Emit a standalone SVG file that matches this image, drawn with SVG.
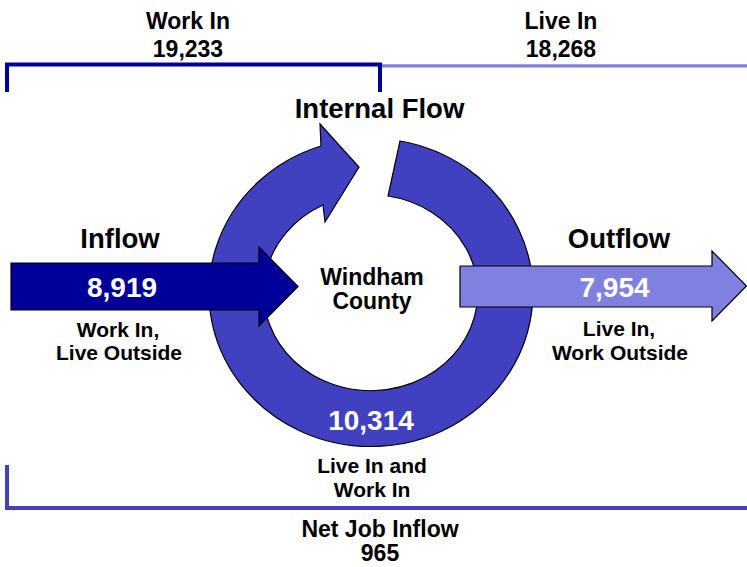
<svg xmlns="http://www.w3.org/2000/svg" width="747" height="567" viewBox="0 0 747 567">
<style>
text{font-family:"Liberation Sans",Arial,sans-serif;font-weight:bold;text-anchor:middle;fill:#000}
.s{font-size:21px}
.t{font-size:23px}
.h{font-size:27.5px}
.n{font-size:28px;fill:#fff}
.shape{stroke:#000;stroke-width:1.2;stroke-linejoin:miter}
</style>
<rect width="747" height="567" fill="#fff"/>
<g id="brackets">
<path d="M7 92 V64.5 H380 V92" fill="none" stroke="#000099" stroke-width="4"/>
<path d="M382 65.8 H747" fill="none" stroke="#8080E0" stroke-width="3.2"/>
<path d="M7 465 V508 H747" fill="none" stroke="#4040C0" stroke-width="4"/>
</g>
<g id="internal-flow">
<path class="shape" fill="#4040C0" d="M400 141 A162 154 0 1 1 321 146 L320 124 L359 167 L325 222 L323 205 A107 98 0 1 0 388 196 Z"/>
</g>
<g id="inflow">
<polygon class="shape" fill="#000099" points="11,263 259,263 259,247 298,286.5 259,326 259,310 11,310"/>
</g>
<g id="outflow">
<polygon class="shape" fill="#8080E0" points="460,266 712,266 712,251 746.5,286 712,321 712,307 460,307"/>
</g>
<g id="labels">
<text class="t" x="188" y="29">Work In</text>
<text class="t" x="188" y="57">19,233</text>
<text class="t" x="561" y="29">Live In</text>
<text class="t" x="561" y="57">18,268</text>
<text class="h" x="379.5" y="118">Internal Flow</text>
<text class="h" x="120" y="248">Inflow</text>
<text class="h" x="619" y="248">Outflow</text>
<text class="n" x="122" y="297">8,919</text>
<text class="n" x="614.5" y="297">7,954</text>
<text class="s" x="118" y="337">Work In,</text>
<text class="s" x="119" y="360">Live Outside</text>
<text class="s" x="619" y="336">Live In,</text>
<text class="s" x="620" y="360">Work Outside</text>
<text class="t" x="372" y="285">Windham</text>
<text class="t" x="372" y="309">County</text>
<text class="n" x="371" y="430">10,314</text>
<text class="s" x="372" y="473">Live In and</text>
<text class="s" x="372" y="497">Work In</text>
<text class="t" x="380" y="537">Net Job Inflow</text>
<text class="t" x="380" y="561">965</text>
</g>
</svg>
